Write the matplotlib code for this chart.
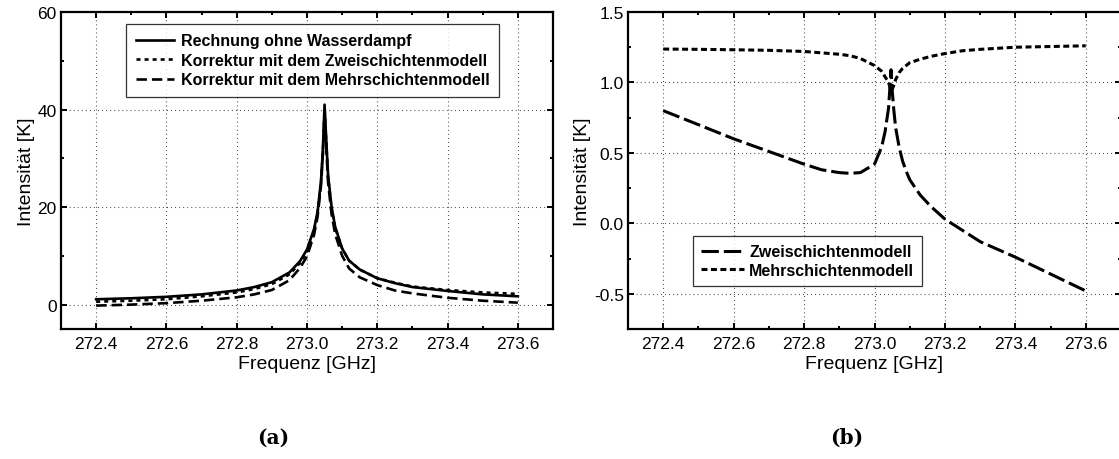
import matplotlib
matplotlib.use("Agg")
import matplotlib.pyplot as plt
from matplotlib.ticker import MultipleLocator, FixedLocator, FormatStrFormatter

plt.rcParams['font.family'] = ['Liberation Sans', 'DejaVu Sans']
plt.rcParams['axes.unicode_minus'] = False
plt.rcParams['lines.scale_dashes'] = False

# --- (a) Spektren ---
freq_a = [272.40, 272.50, 272.60, 272.70, 272.80, 272.85, 272.90, 272.95, 272.98,
          273.00, 273.02, 273.03, 273.04, 273.045, 273.05, 273.055, 273.06, 273.07,
          273.08, 273.10, 273.12, 273.15, 273.20, 273.25, 273.30, 273.40, 273.50, 273.60]
ohne_wasserdampf = [1.1, 1.3, 1.6, 2.1, 2.9, 3.6, 4.6, 6.6, 8.9,
                    11.3, 15.5, 19.0, 25.5, 31.5, 41.0, 33.5, 26.5, 20.0,
                    16.0, 11.5, 9.0, 7.2, 5.4, 4.4, 3.6, 2.8, 2.1, 1.7]
zweischicht_a = [0.6, 0.8, 1.1, 1.7, 2.5, 3.2, 4.2, 6.2, 8.5,
                 10.9, 15.1, 18.7, 25.1, 31.0, 40.0, 33.0, 26.1, 19.7,
                 15.8, 11.5, 9.0, 7.2, 5.4, 4.5, 3.7, 3.0, 2.5, 2.2]
mehrschicht_a = [-0.2, 0.0, 0.3, 0.8, 1.5, 2.1, 3.0, 5.0, 7.5,
                 9.9, 14.3, 18.0, 24.5, 30.5, 39.0, 32.0, 25.0, 18.5,
                 14.5, 10.0, 7.4, 5.6, 4.0, 2.9, 2.3, 1.4, 0.8, 0.4]

# --- (b) Korrekturen ---
freq_b = [272.40, 272.50, 272.60, 272.70, 272.80, 272.85, 272.90, 272.93, 272.96,
          273.00, 273.02, 273.03, 273.04, 273.047, 273.05, 273.055, 273.06, 273.07,
          273.08, 273.09, 273.10, 273.13, 273.16, 273.20, 273.25, 273.30, 273.40,
          273.50, 273.60]
zweischicht_b = [0.80, 0.70, 0.60, 0.51, 0.42, 0.38, 0.36, 0.355, 0.36,
                 0.42, 0.54, 0.65, 0.82, 1.09, 0.95, 0.80, 0.68, 0.54,
                 0.44, 0.37, 0.31, 0.20, 0.12, 0.03, -0.05, -0.13, -0.24,
                 -0.36, -0.48]
mehrschicht_b = [1.237, 1.235, 1.232, 1.228, 1.22, 1.21, 1.20, 1.19, 1.17,
                 1.12, 1.08, 1.04, 1.00, 0.94, 0.95, 0.98, 1.02, 1.07,
                 1.10, 1.12, 1.14, 1.165, 1.185, 1.205, 1.225, 1.235, 1.25,
                 1.255, 1.26]

ticks_x = [272.4, 272.6, 272.8, 273.0, 273.2, 273.4, 273.6]
ticklabels_x = ['272.4', '272.6', '272.8', '273.0', '273.2', '273.4', '273.6']

DOTS = (0, (0.72, 2.2))


def style_axes(ax, ylim, ymajor, yminor):
    ax.set_xlim(272.3, 273.7)
    ax.set_ylim(*ylim)
    ax.xaxis.set_major_locator(FixedLocator(ticks_x))
    ax.set_xticklabels(ticklabels_x)
    ax.xaxis.set_minor_locator(MultipleLocator(0.1))
    ax.yaxis.set_major_locator(MultipleLocator(ymajor))
    ax.yaxis.set_minor_locator(MultipleLocator(yminor))
    ax.tick_params(which='both', direction='in', top=True, right=True, width=1.4,
                   labelsize=12.5)
    ax.tick_params(which='major', length=4.5)
    ax.tick_params(which='minor', length=2.5)
    ax.tick_params(axis='x', pad=5)
    ax.tick_params(axis='y', pad=3)
    for spine in ax.spines.values():
        spine.set_linewidth(1.6)
    ax.grid(True, which='major', color='0.3', linewidth=0.8, linestyle=DOTS)
    ax.set_axisbelow(True)
    ax.set_xlabel('Frequenz [GHz]', fontsize=14, labelpad=3)
    ax.set_ylabel('Intensität [K]', fontsize=14, labelpad=2)


fig = plt.figure(figsize=(11.19, 4.6), dpi=100)

# linke Grafik
ax1 = fig.add_axes([61 / 1119, 130 / 460, 492 / 1119, 317 / 460])
ax1.plot(freq_a, ohne_wasserdampf, color='black', lw=1.9, linestyle='-',
         label='Rechnung ohne Wasserdampf')
ax1.plot(freq_a, zweischicht_a, color='black', lw=1.9, linestyle=(0, (2.9, 2.9)),
         label='Korrektur mit dem Zweischichtenmodell')
ax1.plot(freq_a, mehrschicht_a, color='black', lw=1.9, linestyle=(0, (7.5, 3.6)),
         label='Korrektur mit dem Mehrschichtenmodell')
style_axes(ax1, (-5, 60), 20, 10)
leg1 = ax1.legend(loc='upper left', bbox_to_anchor=(0.132, 0.963), frameon=True,
                  fancybox=False, edgecolor='black', handlelength=2.4,
                  handletextpad=0.45, labelspacing=0.28, borderpad=0.6,
                  borderaxespad=0, prop={'weight': 'bold', 'size': 11.5})
leg1.get_frame().set_linewidth(0.9)
fig.text(273 / 1119, 1 - 438 / 460, '(a)', ha='center', va='center',
         fontsize=14.5, family='DejaVu Serif', weight='bold')

# rechte Grafik
ax2 = fig.add_axes([628 / 1119, 130 / 460, 493 / 1119, 317 / 460])
ax2.plot(freq_b, zweischicht_b, color='black', lw=2.2, linestyle=(0, (12.5, 3.6)),
         label='Zweischichtenmodell')
ax2.plot(freq_b, mehrschicht_b, color='black', lw=2.2, linestyle=(0, (4.3, 2.5)),
         label='Mehrschichtenmodell')
style_axes(ax2, (-0.75, 1.5), 0.5, 0.25)
ax2.yaxis.set_major_formatter(FormatStrFormatter('%.1f'))
leg2 = ax2.legend(loc='upper left', bbox_to_anchor=(0.131, 0.292), frameon=True,
                  fancybox=False, edgecolor='black', handlelength=2.7,
                  handletextpad=0.35, labelspacing=0.22, borderpad=0.5,
                  borderaxespad=0, prop={'weight': 'bold', 'size': 11.5})
leg2.get_frame().set_linewidth(0.9)
fig.text(847 / 1119, 1 - 438 / 460, '(b)', ha='center', va='center',
         fontsize=14.5, family='DejaVu Serif', weight='bold')

fig.savefig('out.png', dpi=100, facecolor='white')
